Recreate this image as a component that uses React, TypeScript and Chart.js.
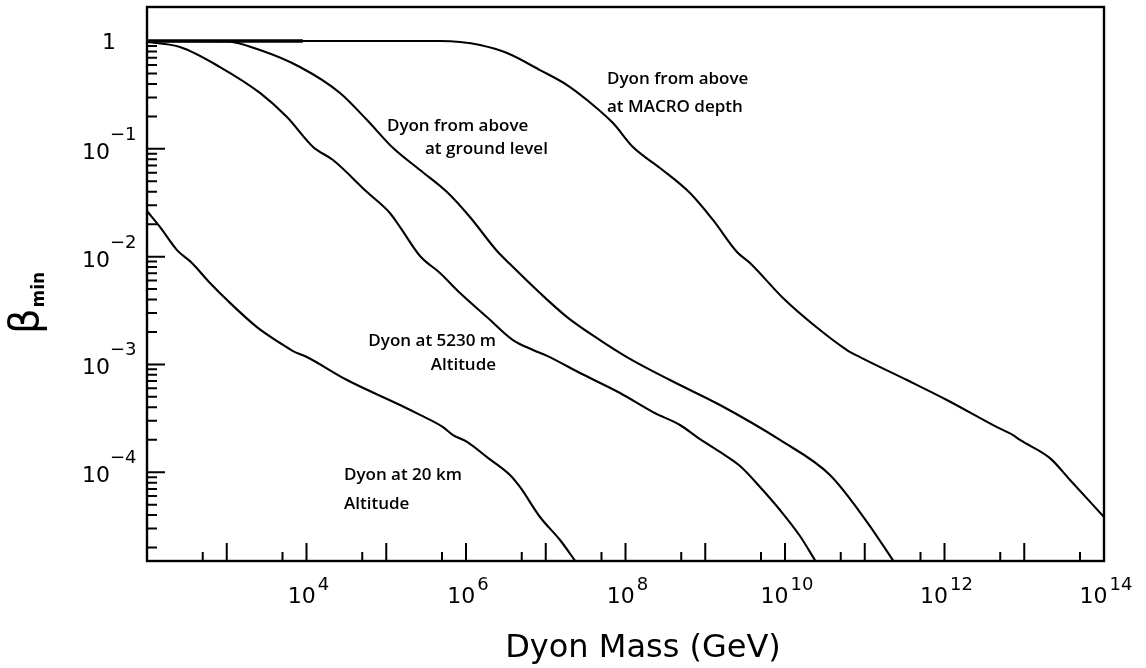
import React, { useEffect, useRef } from "react";
import { Chart, registerables } from "chart.js";

Chart.register(...registerables);

// ---- Data (Dyon mass in GeV, beta_min) ----
const macroMass = [1e2, 4.72e5, 8.41e5, 1.5e6, 3.27e6, 8.47e6, 1.85e7, 3.29e7, 6.97e7, 1.24e8, 2.71e8, 6.44e8, 1.25e9, 2.5e9, 3.64e9, 9.44e9, 2.38e10, 5.98e10, 8.71e10, 3.39e11, 1.07e12, 4.55e12, 7.23e12, 8.85e12, 2.1e13, 3.75e13, 1e14];
const macroBeta = [1, 1, 0.98, 0.918, 0.774, 0.538, 0.391, 0.284, 0.1734, 0.104, 0.0664, 0.0389, 0.0219, 0.01104, 0.00873, 0.00413, 0.00227, 0.00136, 0.00117, 7.16e-4, 4.68e-4, 2.62e-4, 2.21e-4, 1.99e-4, 1.35e-4, 8.47e-5, 3.84e-5];

const groundMass = [1e2, 1.01e3, 2.61e3, 8.28e3, 2.63e4, 5.74e4, 1.22e5, 2.65e5, 5.78e5, 1.12e6, 2.45e6, 3.56e6, 8.47e6, 1.85e7, 4.79e7, 1.04e8, 3.61e8, 1.53e9, 8.65e9, 3.66e10, 1.07e11, 2.33e11];
const groundBeta = [1, 0.99, 0.825, 0.574, 0.33, 0.185, 0.1017, 0.0636, 0.0397, 0.0233, 0.01127, 0.00853, 0.00459, 0.00275, 0.00168, 0.00117, 7.16e-4, 4.2e-4, 1.99e-4, 9.42e-5, 3.45e-5, 1.47e-5];

const altitude5230Mass = [1e2, 2.59e2, 8.22e2, 2.61e3, 5.69e3, 1.21e4, 2.15e4, 5.74e4, 1.11e5, 1.49e5, 2.65e5, 4.72e5, 8.41e5, 1.83e6, 3.88e6, 6.92e6, 1.04e7, 2.69e7, 8.53e7, 2.21e8, 4.82e8, 7.89e8, 1.53e9, 2.73e9, 4.86e9, 8.65e9, 1.54e10, 2.45e10];
const altitude5230Beta = [0.979, 0.88, 0.574, 0.33, 0.197, 0.104, 0.0787, 0.0397, 0.0254, 0.0188, 0.01014, 0.00705, 0.00459, 0.00275, 0.00168, 0.00136, 0.0012, 8.32e-4, 5.43e-4, 3.61e-4, 2.74e-4, 2.12e-4, 1.54e-4, 1.14e-4, 7.29e-5, 4.46e-5, 2.56e-5, 1.47e-5];

const altitude20kmMass = [1e2, 1.46e2, 2.38e2, 3.66e2, 6.17e2, 1.01e3, 2.39e3, 4.66e3, 6.78e3, 1.01e4, 3.22e4, 1.49e5, 2.65e5, 5.15e5, 6.87e5, 1.03e6, 1.83e6, 3.56e6, 4.75e6, 8.47e6, 1.51e7, 2.39e7];
const altitude20kmBeta = [0.0265, 0.0188, 0.0115, 0.00873, 0.00569, 0.00395, 0.00222, 0.00158, 0.00133, 0.00117, 7.16e-4, 4.2e-4, 3.4e-4, 2.62e-4, 2.21e-4, 1.91e-4, 1.38e-4, 9.42e-5, 7.29e-5, 3.84e-5, 2.35e-5, 1.47e-5];

const unityMass = [1e2, 9.0e3];
const unityBeta = [1, 1];

// ---- Axes ----
const xMin = 1e2;
const xMax = 1e14;
const yMin = 1.5e-5;
const yMax = 2.07;

const xMajorTicks = [1e3, 1e4, 1e5, 1e6, 1e7, 1e8, 1e9, 1e10, 1e11, 1e12, 1e13];
const xMinorTicks = [5e2, 5e3, 5e4, 5e5, 5e6, 5e7, 5e8, 5e9, 5e10, 5e11, 5e12, 5e13];
const xLabelValues = [1e4, 1e6, 1e8, 1e10, 1e12, 1e14];
const xLabelExponents = ["4", "6", "8", "10", "12", "14"];

const yMajorTicks = [1, 1e-1, 1e-2, 1e-3, 1e-4];
const yMinorMantissas = [2, 3, 4, 5, 6, 7, 8, 9];
const yMinorDecades = [1e-1, 1e-2, 1e-3, 1e-4, 1e-5];
const yLabelValues = [1, 1e-1, 1e-2, 1e-3, 1e-4];
const yLabelExponents = ["", "\u22121", "\u22122", "\u22123", "\u22124"];

const xTitle = "Dyon Mass (GeV)";
const yTitleMain = "\u03B2";
const yTitleSub = "min";

// ---- Curve annotations ----
const noteTexts = ["Dyon from above", "at MACRO depth", "Dyon from above", "at ground level", "Dyon at 5230 m", "Altitude", "Dyon at 20 km", "Altitude"];
const noteMass = [5.86e7, 5.86e7, 1.02e5, 3.06e5, 2.38e6, 2.38e6, 2.95e4, 2.95e4];
const noteBeta = [0.399, 0.219, 0.146, 0.0895, 1.48e-3, 8.87e-4, 8.55e-5, 4.56e-5];
const noteAlign: CanvasTextAlign[] = ["left", "left", "left", "left", "right", "right", "left", "left"];

const toPoints = (xs: number[], ys: number[]) => xs.map((x, i) => ({ x, y: ys[i] }));

const AXIS_FONT = '"DejaVu Sans", sans-serif';
const NOTE_FONT = '"Open Sans", "DejaVu Sans", sans-serif';

const decorPlugin = {
  id: "decor",
  beforeDraw(chart: any) {
    const { ctx, width, height } = chart;
    ctx.save();
    ctx.fillStyle = "#ffffff";
    ctx.fillRect(0, 0, width, height);
    ctx.restore();
  },
  afterDatasetsDraw(chart: any) {
    const { ctx, chartArea: a } = chart;
    const x = chart.scales.x;
    const y = chart.scales.y;
    ctx.save();
    ctx.strokeStyle = "#000";
    ctx.fillStyle = "#000";

    // ticks
    ctx.lineWidth = 2;
    ctx.beginPath();
    xMajorTicks.forEach((v) => {
      const px = x.getPixelForValue(v);
      ctx.moveTo(px, a.bottom);
      ctx.lineTo(px, a.bottom - 18);
    });
    xMinorTicks.forEach((v) => {
      const px = x.getPixelForValue(v);
      ctx.moveTo(px, a.bottom);
      ctx.lineTo(px, a.bottom - 9);
    });
    yMajorTicks.forEach((v) => {
      const py = y.getPixelForValue(v);
      ctx.moveTo(a.left, py);
      ctx.lineTo(a.left + 18, py);
    });
    yMinorDecades.forEach((d) => {
      yMinorMantissas.forEach((m) => {
        const v = m * d;
        if (v <= yMin || v >= yMax) return;
        const py = y.getPixelForValue(v);
        ctx.moveTo(a.left, py);
        ctx.lineTo(a.left + 10, py);
      });
    });
    ctx.stroke();

    // frame
    ctx.lineWidth = 2.4;
    ctx.strokeRect(a.left, a.top, a.right - a.left, a.bottom - a.top);

    // x tick labels
    ctx.textBaseline = "alphabetic";
    ctx.textAlign = "left";
    xLabelValues.forEach((v, i) => {
      const px = x.getPixelForValue(v);
      ctx.font = `22px ${AXIS_FONT}`;
      const w1 = ctx.measureText("10").width;
      ctx.font = `18px ${AXIS_FONT}`;
      const w2 = ctx.measureText(xLabelExponents[i]).width;
      const start = px - (w1 + w2 + 2) / 2 + 2;
      ctx.font = `22px ${AXIS_FONT}`;
      ctx.fillText("10", start, 603);
      ctx.font = `18px ${AXIS_FONT}`;
      ctx.fillText(xLabelExponents[i], start + w1 + 2, 590);
    });

    // y tick labels
    yLabelValues.forEach((v, i) => {
      const py = y.getPixelForValue(v);
      ctx.font = `22px ${AXIS_FONT}`;
      if (!yLabelExponents[i]) {
        ctx.textAlign = "right";
        ctx.fillText("1", 116, py + 8);
        return;
      }
      ctx.textAlign = "right";
      ctx.fillText("10", 110, py + 10);
      ctx.textAlign = "left";
      ctx.font = `18px ${AXIS_FONT}`;
      ctx.fillText(yLabelExponents[i], 110, py - 9);
    });

    // x title
    ctx.textAlign = "center";
    ctx.font = `32px ${AXIS_FONT}`;
    ctx.fillText(xTitle, 643, 657);

    // y title (rotated)
    ctx.save();
    ctx.translate(38, 334);
    ctx.rotate(-Math.PI / 2);
    ctx.textAlign = "left";
    ctx.font = `40px ${AXIS_FONT}`;
    ctx.fillText(yTitleMain, 0, 0);
    const bw = ctx.measureText(yTitleMain).width;
    ctx.font = `bold 17px ${AXIS_FONT}`;
    ctx.fillText(yTitleSub, bw + 1, 6);
    ctx.restore();

    // annotations
    ctx.font = `600 17px ${NOTE_FONT}`;
    noteTexts.forEach((t, i) => {
      ctx.textAlign = noteAlign[i];
      ctx.fillText(t, x.getPixelForValue(noteMass[i]), y.getPixelForValue(noteBeta[i]));
    });

    ctx.restore();
  },
};

export default function App() {
  const canvasRef = useRef<HTMLCanvasElement | null>(null);

  useEffect(() => {
    if (!canvasRef.current) return;
    const lineStyle = {
      showLine: true,
      borderColor: "#000",
      borderWidth: 2.1,
      pointRadius: 0,
      fill: false,
      cubicInterpolationMode: "monotone",
    };
    const chart = new Chart(canvasRef.current, {
      type: "scatter",
      data: {
        datasets: [
          { label: "Dyon from above at MACRO depth", data: toPoints(macroMass, macroBeta), ...lineStyle },
          { label: "Dyon from above at ground level", data: toPoints(groundMass, groundBeta), ...lineStyle },
          { label: "Dyon at 5230 m Altitude", data: toPoints(altitude5230Mass, altitude5230Beta), ...lineStyle },
          { label: "Dyon at 20 km Altitude", data: toPoints(altitude20kmMass, altitude20kmBeta), ...lineStyle },
          { label: "beta = 1", data: toPoints(unityMass, unityBeta), ...lineStyle, borderWidth: 3.6 },
        ],
      },
      options: {
        responsive: false,
        animation: false,
        devicePixelRatio: 1,
        layout: { padding: { left: 147, top: 7, right: 42, bottom: 107 } },
        plugins: { legend: { display: false }, tooltip: { enabled: false } },
        scales: {
          x: { type: "logarithmic", min: xMin, max: xMax, display: false },
          y: { type: "logarithmic", min: yMin, max: yMax, display: false },
        },
      },
      plugins: [decorPlugin],
    } as any);
    return () => chart.destroy();
  }, []);

  return (
    <div style={{ position: "absolute", left: 0, top: 0, width: 1146, height: 668, background: "#fff" }}>
      <canvas ref={canvasRef} width={1146} height={668} style={{ display: "block" }} />
    </div>
  );
}
